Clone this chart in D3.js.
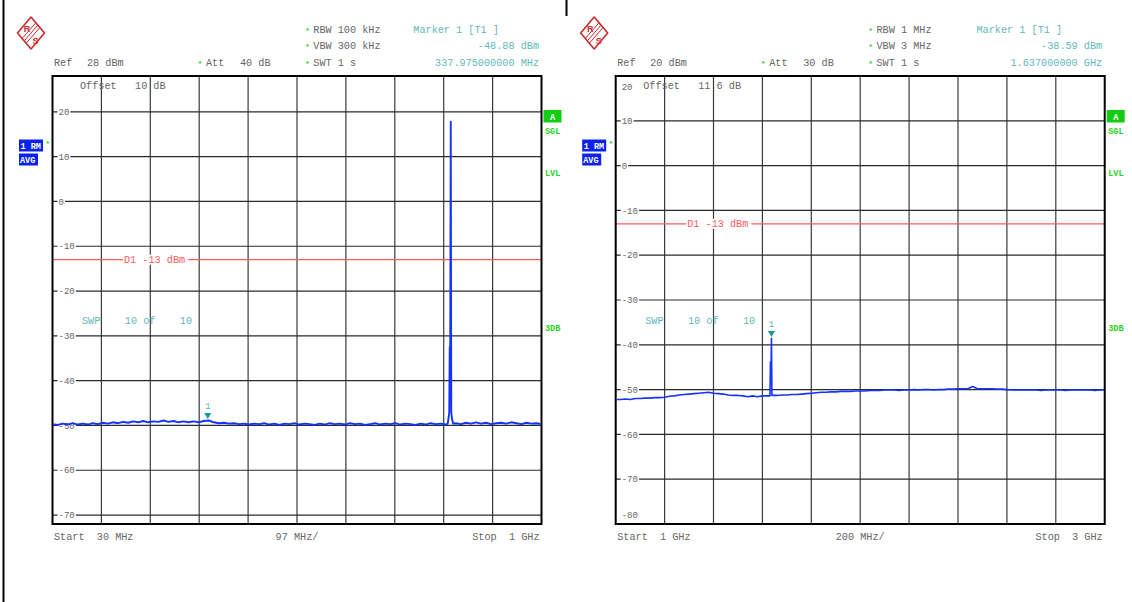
<!DOCTYPE html>
<html><head><meta charset="utf-8">
<script src="https://cdn.jsdelivr.net/npm/d3@7"></script>
<style>
html,body{margin:0;padding:0;background:#fff;}
svg{display:block;}
text{font-family:"Liberation Mono",monospace;white-space:pre;}
</style></head><body>
<svg id="c" width="1132" height="602"></svg>
<script>
// ---------- DATA ----------
const startFreqs = [30, 1000];          // MHz
const stopFreqs  = [1000, 3000];        // MHz
const refLevels  = [28, 20];            // dBm (top of screen)
const yTickValues = [[20,10,0,-10,-20,-30,-40,-50,-60,-70],[10,0,-10,-20,-30,-40,-50,-60,-70]];
const yEdgeTop    = [null, "20"];
const yEdgeBottom = [null, "-80"];
const refText  = ["28 dBm","20 dBm"];
const attText  = ["40 dB","30 dB"];
const rbwText  = ["RBW 100 kHz","RBW 1 MHz"];
const vbwText  = ["VBW 300 kHz","VBW 3 MHz"];
const swtText  = ["SWT 1 s","SWT 1 s"];
const markerTitle = ["Marker 1 [T1 ]","Marker 1 [T1 ]"];
const markerLevelText = ["-48.88 dBm","-38.59 dBm"];
const markerFreqText  = ["337.975000000 MHz","1.637000000 GHz"];
const markerFreqs  = [337.975, 1637];
const markerLevels = [-48.88, -38.59];
const offsetText = ["Offset   10 dB","Offset   11.6 dB"];
const displayLine = -13;
const displayLineText = "D1 -13 dBm";
const sweepText = "SWP    10 of    10";
const startText = ["Start  30 MHz","Start  1 GHz"];
const spanText  = ["97 MHz/","200 MHz/"];
const stopText  = ["Stop  1 GHz","Stop  3 GHz"];

// Left trace: 30..1000 MHz, 10 MHz step (820 MHz replaced by the carrier points)
const leftStep = 10;
const leftLevels = [
 -49.7,-49.9,-49.6,-49.8,-49.5,-49.8,-49.6,-49.8,-49.5,-49.7,
 -49.4,-49.6,-49.3,-49.5,-49.2,-49.4,-49.1,-49.3,-49.0,-49.3,
 -49.1,-49.2,-48.9,-49.2,-49.0,-49.3,-49.1,-49.3,-49.1,-49.3,
 -49.0,-48.9,-49.3,-49.5,-49.4,-49.6,-49.5,-49.7,-49.6,-49.8,
 -49.6,-49.7,-49.5,-49.8,-49.6,-49.9,-49.6,-49.7,-49.5,-49.8,
 -49.6,-49.7,-49.9,-49.6,-49.8,-49.5,-49.7,-49.6,-49.8,-49.5,
 -49.7,-49.6,-49.9,-49.7,-49.5,-49.8,-49.6,-49.7,-49.5,-49.8,
 -49.6,-49.7,-49.9,-49.6,-49.8,-49.5,-49.7,-49.6,-49.8,
 null,
 -49.5,-49.7,-49.4,-49.6,-49.3,-49.6,-49.4,-49.7,-49.5,-49.4,
 -49.6,-49.3,-49.5,-49.7,-49.4,-49.6,-49.5,-49.7
];
const leftPeakFreqs  = [814, 817, 818, 819, 820, 821, 822.5, 825];
const leftPeakLevels = [-49.6, -47.2, -32.5, -32.5, 17.8, -47.0, -48.6, -49.6];

// Right trace: 1000..3000 MHz, 20 MHz step (spike points added separately)
const rightStep = 20;
const rightLevels = [
 -52.2,-52.2,-52.1,-52.2,-52.0,-52.0,-51.9,-51.9,-51.8,-51.8,
 -51.7,-51.5,-51.4,-51.2,-51.1,-51.0,-50.9,-50.8,-50.7,-50.6,
 -50.8,-50.9,-51.0,-51.2,-51.3,-51.3,-51.4,-51.6,-51.4,-51.6,
 -51.4,-51.4,-51.3,-51.3,-51.2,-51.2,-51.1,-51.1,-51.0,-50.9,
 -50.8,-50.7,-50.6,-50.6,-50.5,-50.5,-50.4,-50.4,-50.4,-50.3,
 -50.3,-50.3,-50.2,-50.2,-50.2,-50.1,-50.1,-50.1,-50.2,-50.1,
 -50.1,-50.0,-50.1,-50.0,-50.0,-50.1,-50.0,-50.0,-49.9,-49.9,
 -49.8,-49.8,-49.8,-49.3,-49.8,-49.8,-49.8,-49.8,-49.9,-49.9,
 -50.0,-50.1,-50.1,-50.1,-50.1,-50.1,-50.1,-50.2,-50.1,-50.1,
 -50.1,-50.1,-50.2,-50.1,-50.1,-50.1,-50.1,-50.1,-50.2,-50.1,
 -50.1
];
const rightPeakFreqs  = [1631, 1633, 1636, 1637, 1639];
const rightPeakLevels = [-51.4, -43.8, -43.8, -38.59, -51.3];

// ---------- LAYOUT ----------
const W = 489, H = 448, TOP = 76;
const lefts = [52.5, 615.7];
const gray = "#666", teal = "#5fb9b9", tealDark = "#169a9a", red = "#ff5b5b",
      green = "#22d422", blue = "#0a22f0", trace = "#1433ff";
const CW = 6.12; // monospace char width at 10.2px

const svg = d3.select("#c");
svg.append("rect").attr("width",1132).attr("height",602).attr("fill","#fff");
svg.append("line").attr("x1",3.5).attr("x2",3.5).attr("y1",0).attr("y2",602).attr("stroke","#000").attr("stroke-width",2);
svg.append("line").attr("x1",566.5).attr("x2",566.5).attr("y1",0).attr("y2",16).attr("stroke","#000").attr("stroke-width",2);

function txt(g, s, x, y, opt) {
  opt = opt || {};
  return g.append("text").attr("x",x).attr("y",y).text(s)
    .attr("font-size", opt.size || 10.2)
    .attr("fill", opt.fill || gray)
    .attr("font-weight", opt.weight || "normal")
    .attr("text-anchor", opt.anchor || "start");
}
function star(g, x, y) {
  g.append("text").attr("x",x).attr("y",y+3).attr("text-anchor","middle")
   .attr("font-size",8).attr("font-weight","bold").attr("fill",green).text("*");
}
function logo(g, cx, cy) {
  const lg = g.append("g").attr("transform",`translate(${cx},${cy})`);
  lg.append("path").attr("d","M-13.5,0 L0,-16 L13.5,0 L0,16 Z")
    .attr("fill","none").attr("stroke","#cc2a2a").attr("stroke-width",1.6).attr("stroke-linejoin","round");
  [-2.2,0,2.2].forEach(o => {
    lg.append("line").attr("x1",-7+o).attr("y1",8+o).attr("x2",7+o).attr("y2",-8+o)
      .attr("stroke","#cc2a2a").attr("stroke-width",1);
  });
  lg.append("text").attr("x",-4).attr("y",-1).attr("text-anchor","middle").attr("font-size",9)
    .attr("font-weight","bold").attr("fill","#cc2a2a").style("font-family","Liberation Sans").text("R");
  lg.append("text").attr("x",4.5).attr("y",11).attr("text-anchor","middle").attr("font-size",9)
    .attr("font-weight","bold").attr("fill","#cc2a2a").style("font-family","Liberation Sans").text("S");
}

[0,1].forEach(i => {
  const L = lefts[i];
  const x = d3.scaleLinear().domain([startFreqs[i], stopFreqs[i]]).range([L, L+W]);
  const y = d3.scaleLinear().domain([refLevels[i], refLevels[i]-100]).range([TOP, TOP+H]);
  const g = svg.append("g");

  // grid
  const vt = d3.range(1,10).map(k => startFreqs[i] + k*(stopFreqs[i]-startFreqs[i])/10);
  g.selectAll(".vg").data(vt).join("line")
    .attr("x1", d => x(d)).attr("x2", d => x(d)).attr("y1", TOP).attr("y2", TOP+H)
    .attr("stroke", "#3a3a3a").attr("stroke-width", 1.2);
  g.selectAll(".hg").data(yTickValues[i]).join("line")
    .attr("x1", L).attr("x2", L+W).attr("y1", d => y(d)).attr("y2", d => y(d))
    .attr("stroke", "#2a2a2a").attr("stroke-width", 1.2);

  // y tick labels
  yTickValues[i].forEach(v => {
    const s = String(v);
    g.append("rect").attr("x", L+5).attr("y", y(v)-4.5).attr("width", s.length*5.45+2).attr("height", 9).attr("fill","#fff");
    txt(g, s, L+6, y(v)+3.2, {size:9});
  });
  if (yEdgeTop[i]) txt(g, yEdgeTop[i], L+6, 89.5, {size:9});
  if (yEdgeBottom[i]) txt(g, yEdgeBottom[i], L+6, 517.5, {size:9});

  // display line D1
  const yd = y(displayLine);
  g.append("line").attr("x1", L).attr("x2", L+W).attr("y1", yd).attr("y2", yd).attr("stroke", red).attr("stroke-width", 1.2);
  g.append("rect").attr("x", L+70.5).attr("y", yd-5).attr("width", displayLineText.length*CW+4).attr("height", 10).attr("fill","#fff");
  txt(g, displayLineText, L+71.5, yd+3.5, {fill: red});

  // frame
  g.append("rect").attr("x", L).attr("y", TOP).attr("width", W).attr("height", H)
    .attr("fill","none").attr("stroke","#000").attr("stroke-width",2);

  // header
  logo(g, L-21.5, 33);
  txt(g, "Ref", L+1.5, 66);
  txt(g, refText[i], L+34.5, 66);
  star(g, L+147.5, 63);
  txt(g, "Att", L+153.5, 66);
  txt(g, attText[i], L+187.5, 66);
  star(g, L+255, 30); txt(g, rbwText[i], L+260.8, 33);
  star(g, L+255, 46); txt(g, vbwText[i], L+260.8, 49);
  star(g, L+255, 63); txt(g, swtText[i], L+260.8, 66);
  txt(g, markerTitle[i], L+360.8, 33, {fill: teal});
  txt(g, markerLevelText[i], L+486.5, 49, {fill: teal, anchor: "end"});
  txt(g, markerFreqText[i], L+486.5, 66, {fill: teal, anchor: "end"});

  // in-plot texts
  txt(g, offsetText[i], L+27.5, 89);
  txt(g, sweepText, L+29.5, 324, {fill: teal});

  // left side boxes
  g.append("rect").attr("x", L-33.5).attr("y", 139.5).attr("width", 24).attr("height", 12).attr("fill", blue);
  txt(g, "1 RM", L-32, 149, {fill:"#fff", size:8.5, weight:"bold"});
  g.append("rect").attr("x", L-33.5).attr("y", 153.5).attr("width", 19).attr("height", 12).attr("fill", blue);
  txt(g, "AVG", L-32.5, 163, {fill:"#fff", size:8.5, weight:"bold"});
  star(g, L-4.8, 143);

  // right side labels
  g.append("rect").attr("x", L+W+2).attr("y", 110).attr("width", 18).attr("height", 12.5).attr("fill", "#11cc11");
  txt(g, "A", L+W+11, 119.5, {fill:"#fff", size:8.5, weight:"bold", anchor:"middle"});
  txt(g, "SGL", L+W+3.5, 134, {fill: green, size:8.5, weight:"bold"});
  txt(g, "LVL", L+W+3.5, 176, {fill: green, size:8.5, weight:"bold"});
  txt(g, "3DB", L+W+3.5, 331, {fill: green, size:8.5, weight:"bold"});

  // bottom texts
  txt(g, startText[i], L+1.5, 540);
  txt(g, spanText[i], L+W/2, 540, {anchor:"middle"});
  txt(g, stopText[i], L+487, 540, {anchor:"end"});

  // trace
  const levels = i === 0 ? leftLevels : rightLevels;
  const step = i === 0 ? leftStep : rightStep;
  const pf = i === 0 ? leftPeakFreqs : rightPeakFreqs;
  const pl = i === 0 ? leftPeakLevels : rightPeakLevels;
  let pts = levels.map((v,k) => ({f: startFreqs[i] + k*step, v})).filter(d => d.v !== null);
  pts = pts.concat(pf.map((f,k) => ({f, v: pl[k]})));
  if (i === 1) pts = pts.filter(d => !(d.f > 1625 && d.f < 1645) || pf.includes(d.f));
  pts.sort((a,b) => a.f - b.f);
  const clipId = "clip"+i;
  svg.append("clipPath").attr("id", clipId).append("rect").attr("x", L+1).attr("y", TOP+1).attr("width", W-2).attr("height", H-2);
  g.append("path").datum(pts).attr("clip-path", `url(#${clipId})`)
    .attr("d", d3.line().x(d => x(d.f)).y(d => y(d.v)))
    .attr("fill","none").attr("stroke", trace).attr("stroke-width", i === 0 ? 1.9 : 1.6).attr("stroke-linejoin","round");

  // marker
  const mx = x(markerFreqs[i]), my = y(markerLevels[i]) - 1.5;
  g.append("path").attr("d", `M${mx-3.5},${my-6} L${mx+3.5},${my-6} L${mx},${my} Z`).attr("fill", tealDark);
  txt(g, "1", mx, my-10, {fill: teal, size: 9.5, anchor:"middle"});
});
</script>
</body></html>
